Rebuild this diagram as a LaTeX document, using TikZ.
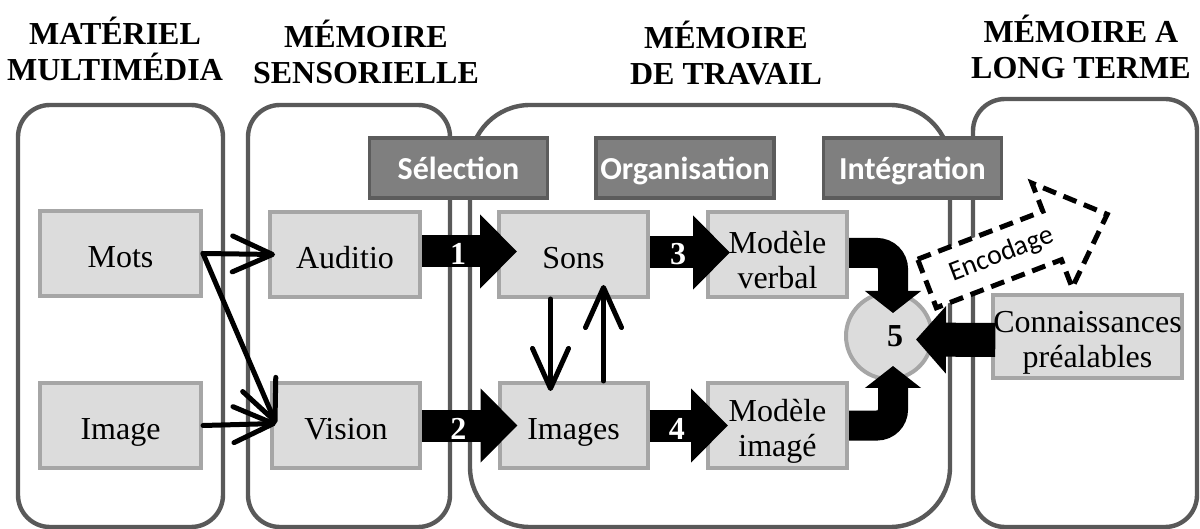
\documentclass[tikz,border=0pt]{standalone}
\usepackage{fontspec}
\setmainfont{Liberation Serif}
\newfontfamily\calib{Carlito}
\usetikzlibrary{arrows.meta}
\definecolor{cont}{HTML}{595959}
\definecolor{boxfill}{HTML}{DCDCDC}
\definecolor{boxline}{HTML}{A6A6A6}
\definecolor{procfill}{HTML}{7F7F7F}
\definecolor{procline}{HTML}{5C5C5C}
\newcommand\mystrut{\rule{0pt}{17pt}}
\begin{document}
\begin{tikzpicture}[x=0.5pt,y=-0.5pt,
  container/.style={draw=cont, line width=2.2pt, rounded corners=16pt, minimum height=211pt, inner sep=0pt},
  title/.style={font=\fontsize{16}{18}\selectfont\bfseries, align=center, inner sep=0pt},
  box/.style={draw=boxline, fill=boxfill, line width=2pt, minimum height=42.5pt, inner sep=0pt, align=center, font=\fontsize{16}{17.5}\selectfont},
  onebox/.style={box, text height=15pt, text depth=1pt},
  proc/.style={draw=procline, fill=procfill, line width=1.6pt, minimum width=89pt, minimum height=30pt, inner sep=0pt, text height=15pt, text depth=3pt, text=white, font=\calib\fontsize{16}{18}\selectfont\bfseries},
  thinarrow/.style={line width=2.5pt, line cap=round, -{Straight Barb[round,length=20pt,width=18pt]}},
  blockarrow/.style={line width=16pt, -{Triangle[length=18.5pt,width=36pt]}},
  curvearrow/.style={line width=15pt, rounded corners=8pt, -{Triangle[length=11pt,width=27.5pt]}},
  num/.style={text=white, font=\fontsize{16}{18}\selectfont\bfseries, inner sep=0pt},
  encarrow/.style={draw=black, line width=2.5pt, dash pattern=on 7pt off 4pt, fill=white}
]
\useasboundingbox (0,0) rectangle (1200,529);

% containers
\node[container, minimum width=102.5pt] (c1) at (120.5,316) {};
\node[container, minimum width=101pt] (c2) at (349,316) {};
\node[container, rounded corners=30pt, minimum width=240pt] (c3) at (710,316) {};
\node[container, minimum width=112pt, minimum height=214pt] (c4) at (1085,313) {};

% titles
\node[title] (t1) at (115,49) {MATÉRIEL\\MULTIMÉDIA};
\node[title] (t2) at (366,52) {MÉMOIRE\\SENSORIELLE};
\node[title] (t3) at (726,53) {MÉMOIRE\\DE TRAVAIL};
\node[title] (t4) at (1081,47) {MÉMOIRE A\\LONG TERME};

% process labels
\node[proc] (sel) at (458.5,168) {Sélection};
\node[proc] (org) at (685,168) {Organisation};
\node[proc] (int) at (912.5,168) {Intégration};

% boxes
\node[onebox, minimum width=80.5pt] (mots) at (120.5,253.5) {Mots};
\node[onebox, minimum width=80.5pt] (img) at (120.5,425.5) {Image};
\node[onebox, minimum width=75pt] (aud) at (345,254.5) {Auditio};
\node[onebox, minimum width=74pt] (vis) at (346,425.5) {Vision};
\node[onebox, minimum width=74.5pt] (sons) at (573.5,254.5) {Sons};
\node[onebox, minimum width=74pt] (imgs) at (573.5,425.5) {Images};
\node[box, minimum width=69.5pt] (mv) at (777.5,254.5) {\mystrut Modèle\\verbal};
\node[box, minimum width=69.5pt] (mi) at (777.5,425.5) {\mystrut Modèle\\imagé};
\node[box, minimum width=92.5pt, minimum height=41.5pt] (conn) at (1087.5,336.5) {\mystrut Connaissances\\préalables};

% circle 5
\node[circle, draw=boxline, fill=boxfill, line width=2pt, minimum size=43pt, inner sep=0pt,
      font=\fontsize{16}{18}\selectfont\bfseries] (five) at (889,336) {\kern6pt 5};

% thin arrows
\draw[thinarrow] (mots.east) -- ([xshift=3.5pt]aud.west);
\draw[thinarrow] (mots.east) -- ([xshift=3pt,yshift=1pt]vis.west);
\draw[thinarrow] (img.east) -- ([xshift=3pt,yshift=1pt]vis.west);
\draw[thinarrow] ([xshift=-11.5pt]sons.south) -- ([xshift=-11.5pt,yshift=-5pt]imgs.north);
\draw[thinarrow] ([xshift=15pt]imgs.north) -- ([xshift=15pt,yshift=7pt]sons.south);

% block arrows
\draw[blockarrow] ([yshift=1.5pt]aud.east) -- ([xshift=10pt,yshift=1.5pt]sons.west)
  node[num, pos=0.38, yshift=-1pt] (n1) {1};
\draw[blockarrow] (vis.east) -- ([xshift=10pt]imgs.west)
  node[num, pos=0.38, yshift=-1.5pt] (n2) {2};
\draw[blockarrow] ([yshift=1pt]sons.east) -- ([xshift=12pt,yshift=1pt]mv.west)
  node[num, pos=0.35, yshift=-1pt] (n3) {3};
\draw[blockarrow] (imgs.east) -- ([xshift=11pt]mi.west)
  node[num, pos=0.35, yshift=-1.5pt] (n4) {4};

\draw[curvearrow] ([yshift=0.75pt]mv.east) -| ([xshift=2pt,yshift=-11pt]five.north);
\draw[curvearrow] (mi.east) -| ([xshift=2pt,yshift=7.5pt]five.south);
\draw[line width=17pt, -{Triangle[length=15pt,width=33pt]}]
  ([xshift=2pt,yshift=-1.75pt]conn.west) -- ([xshift=-9pt,yshift=-1.75pt]five.east);

% encodage arrow
\begin{scope}[shift={(927,283.5)}, rotate=21]
\draw[encarrow] (0,-26) -- (134,-26) -- (134,-56) -- (193,0) -- (134,56) -- (134,26) -- (0,26) -- cycle;
\node[font=\calib\fontsize{14}{15}\selectfont, rotate=21, inner sep=0pt] (enc) at (80,0) {Encodage};
\end{scope}
\end{tikzpicture}
\end{document}
